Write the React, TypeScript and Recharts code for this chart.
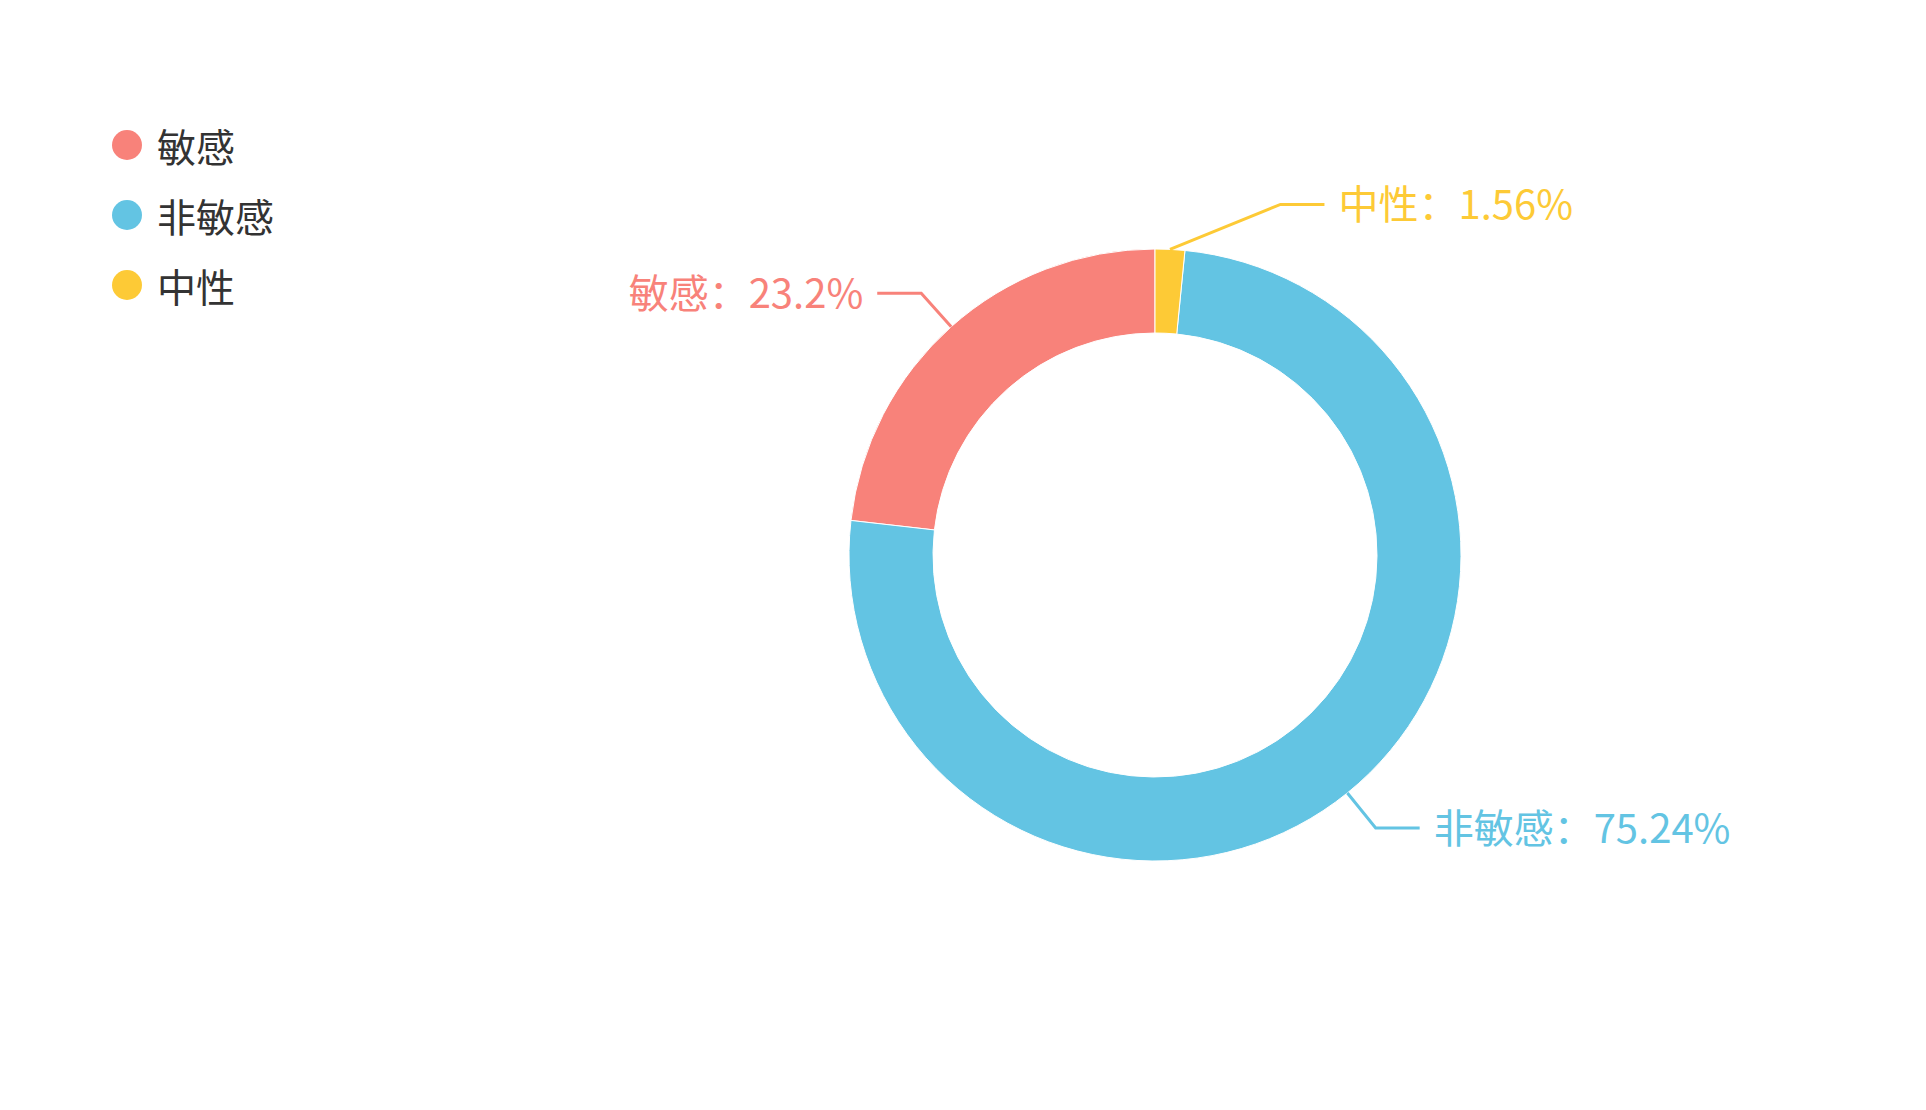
import React from 'react';
import { PieChart, Pie, Cell, Legend } from 'recharts';

// categories and their shares (%)
const categories = ['敏感', '非敏感', '中性'];
const shares = [23.2, 75.24, 1.56];
const colors = ['#F8827A', '#63C4E3', '#FDCA36'];

const data = categories.map((name, i) => ({ name, value: shares[i] }));

const RADIAN = Math.PI / 180;
const FONT = '"Noto Sans CJK SC", "Noto Sans", sans-serif';

// elbow label: radial segment, then a short horizontal one
const renderLabel = (props: any) => {
  const { cx, cy, midAngle, outerRadius, percent, name, index } = props;
  const color = colors[index];
  const cos = Math.cos(-midAngle * RADIAN);
  const sin = Math.sin(-midAngle * RADIAN);
  const side = cos >= 0 ? 1 : -1;
  const sx = cx + outerRadius * cos;
  const sy = cy + outerRadius * sin;
  const r2 = outerRadius + 45;
  const ex = cx + side * Math.max(Math.abs(cos) * r2, outerRadius * 0.41);
  const ey = cy + sin * r2;
  const hx = ex + side * 44;
  const pct = +(percent * 100).toFixed(2);
  return (
    <g>
      <polyline
        points={`${sx},${sy} ${ex},${ey} ${hx},${ey}`}
        fill="none"
        stroke={color}
        strokeWidth={3}
      />
      <text
        x={hx + side * 14}
        y={ey - 2}
        fill={color}
        fontSize={40}
        fontFamily={FONT}
        textAnchor={side > 0 ? 'start' : 'end'}
        dominantBaseline="central"
      >
        {`${name}：${pct}%`}
      </text>
    </g>
  );
};

const renderLegend = () => (
  <div style={{ fontFamily: FONT }}>
    {categories.map((name, i) => (
      <div key={name} style={{ display: 'flex', alignItems: 'center', height: 70 }}>
        <span
          style={{
            display: 'inline-block',
            width: 30,
            height: 30,
            borderRadius: '50%',
            background: colors[i],
            marginRight: 15,
          }}
        />
        <span style={{ fontSize: 39, color: '#333' }}>{name}</span>
      </div>
    ))}
  </div>
);

export default function App() {
  return (
    <div style={{ position: 'absolute', left: 0, top: 0, background: '#fff' }}>
      <PieChart width={1926} height={1110} margin={{ top: 0, right: 0, bottom: 0, left: 0 }}>
        <Legend
          layout="vertical"
          align="center"
          verticalAlign="middle"
          content={renderLegend}
          wrapperStyle={{ left: 112, top: 110, width: 300 }}
        />
        <Pie
          data={data}
          dataKey="value"
          nameKey="name"
          cx={1155}
          cy={555}
          innerRadius={222}
          outerRadius={306}
          startAngle={90}
          endAngle={450}
          stroke="#fff"
          strokeWidth={1}
          label={renderLabel}
          labelLine={false}
          isAnimationActive={false}
        >
          {data.map((d, i) => (
            <Cell key={d.name} fill={colors[i]} />
          ))}
        </Pie>
      </PieChart>
    </div>
  );
}
